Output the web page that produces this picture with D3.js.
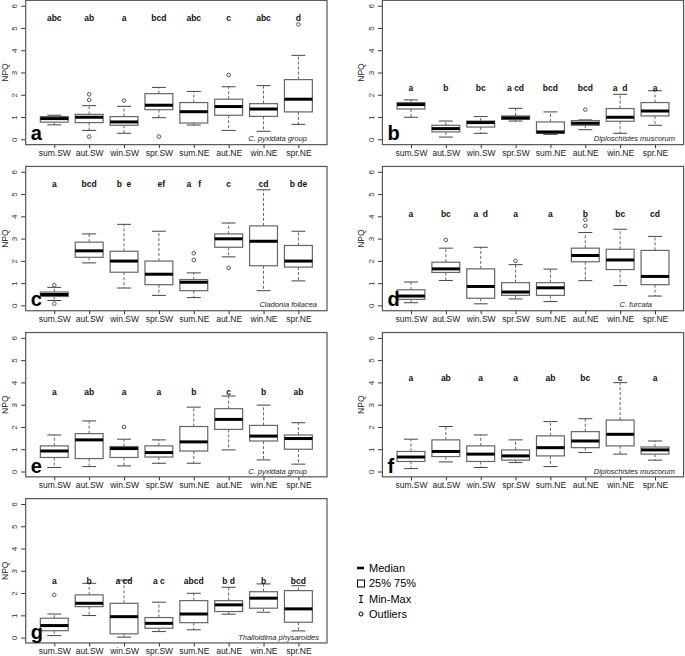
<!DOCTYPE html>
<html><head><meta charset="utf-8">
<script src="https://cdnjs.cloudflare.com/ajax/libs/d3/7.8.5/d3.min.js"></script>
<style>
body{margin:0;background:#fff}
svg{display:block;font-family:"Liberation Sans",Arial,Helvetica,sans-serif}
</style></head><body>
<svg id="chart" width="685" height="656"></svg>
<script>
// ---------- DATA ----------
const categories = ["sum.SW","aut.SW","win.SW","spr.SW","sum.NE","aut.NE","win.NE","spr.NE"];
const yTicks = [0,1,2,3,4,5,6];
// each entry: [min, q1, median, q3, max]
const statsA = [[0.65,0.77,0.93,1.02,1.08],[0.40,0.75,0.99,1.12,1.51],[0.27,0.63,0.78,1.02,1.48],[0.97,1.33,1.53,2.05,2.33],[0.64,0.73,1.24,1.65,2.15],[0.40,1.08,1.47,1.80,2.36],[0.36,1.03,1.36,1.60,2.41],[0.67,1.23,1.80,2.68,3.77]];
const outliersA = [[],[2.02,1.77,0.12],[1.74],[0.12],[],[2.89],[],[5.16]];
const lettersA = ["abc","ab","a","bcd","abc","c","abc","d"];

const statsB = [[0.99,1.36,1.56,1.65,1.77],[0.10,0.33,0.48,0.63,0.82],[0.27,0.55,0.75,0.82,1.02],[0.82,0.90,0.96,1.05,1.39],[0.22,0.27,0.33,0.78,1.23],[0.43,0.63,0.72,0.84,0.87],[0.27,0.81,0.99,1.38,2.02],[0.63,1.05,1.27,1.65,2.18]];
const outliersB = [[],[],[],[],[],[1.33],[],[]];
const lettersB = ["a","b","bc","a cd","bcd","bcd","a  d","a"];

const statsC = [[0.22,0.40,0.49,0.60,0.81],[1.91,2.16,2.45,2.84,3.21],[0.78,1.49,1.99,2.43,3.64],[0.45,0.93,1.40,1.99,3.33],[0.35,0.66,1.04,1.16,1.46],[2.18,2.61,2.99,3.21,3.70],[0.66,1.78,2.88,3.57,5.19],[1.10,1.72,1.99,2.69,3.33]];
const outliersC = [[0.91,0.08],[],[],[],[2.34,2.04],[1.69],[],[]];
const lettersC = ["a","bcd","b  e","  ef","a   f","c","cd","b de"];

const statsD = [[0.12,0.27,0.42,0.70,1.05],[1.12,1.48,1.64,1.94,2.57],[0.07,0.32,0.85,1.64,2.61],[0.29,0.45,0.60,1.02,1.83],[0.17,0.45,0.79,1.02,1.63],[1.11,1.96,2.24,2.57,3.27],[0.89,1.61,2.04,2.52,3.42],[0.42,0.93,1.30,2.47,3.10]];
const outliersD = [[],[2.94],[],[2.00],[],[3.57,3.85],[],[]];
const lettersD = ["a","bc","a  d","a","a","b","bc","cd"];

const statsE = [[0.18,0.63,0.92,1.15,1.64],[0.22,0.58,1.42,1.70,2.27],[0.25,0.63,1.03,1.12,1.45],[0.37,0.65,0.85,1.15,1.42],[0.37,0.92,1.33,2.02,2.89],[0.97,1.89,2.34,2.82,3.39],[0.52,1.37,1.59,2.07,2.98],[0.33,1.00,1.48,1.64,2.19]];
const outliersE = [[],[],[2.00],[],[],[],[],[]];
const lettersE = ["a","ab","a","a","b","c","b","ab"];

const statsF = [[0.13,0.45,0.65,0.90,1.45],[0.43,0.67,0.90,1.42,2.02],[0.18,0.45,0.78,1.15,1.64],[0.40,0.51,0.70,0.97,1.42],[0.22,0.70,1.07,1.60,2.24],[0.85,1.07,1.37,1.79,2.37],[0.78,1.15,1.67,2.31,3.99],[0.51,0.78,0.97,1.10,1.37]];
const outliersF = [[],[],[],[],[],[],[],[]];
const lettersF = ["a","ab","a","a","ab","bc","c","a"];

const statsG = [[0.09,0.31,0.54,0.87,1.06],[0.99,1.39,1.54,1.92,2.44],[0.02,0.17,0.94,1.54,2.58],[0.27,0.42,0.64,0.90,1.59],[0.35,0.67,1.06,1.66,1.99],[1.05,1.17,1.47,1.66,2.26],[1.14,1.32,1.77,2.06,2.41],[0.30,0.69,1.29,2.11,2.33]];
const outliersG = [[1.92],[],[],[],[],[],[],[]];
const lettersG = ["a","b","a cd","a c","abcd","b d","b","bcd"];

const legendLabels = ["Median","25% 75%","Min-Max","Outliers"];

// ---------- LAYOUT ----------
const svg = d3.select("#chart");
const colLeft = [25.7, 382.4], colRight = [327, 683.6];
const rowZero = [139.3, 305.4, 471.5, 637.6];
const unit = 22.27;
const boxCol = "#666", medCol = "#000";

const panels = [
  {tag:"a", sp:"C. pyxidata group", st:statsA, out:outliersA, let:lettersA, ly:5.43, c:0, r:0, spEnd:307},
  {tag:"b", sp:"Diploschistes muscorum", st:statsB, out:outliersB, let:lettersB, ly:2.29, c:1, r:0, spEnd:675},
  {tag:"c", sp:"Cladonia foliacea", st:statsC, out:outliersC, let:lettersC, ly:5.46, c:0, r:1, spEnd:317},
  {tag:"d", sp:"C. furcata", st:statsD, out:outliersD, let:lettersD, ly:4.12, c:1, r:1, spEnd:652},
  {tag:"e", sp:"C. pyxidata group", st:statsE, out:outliersE, let:lettersE, ly:3.55, c:0, r:2, spEnd:307},
  {tag:"f", sp:"Diploschistes muscorum", st:statsF, out:outliersF, let:lettersF, ly:4.19, c:1, r:2, spEnd:675},
  {tag:"g", sp:"Thalloidima physaroides", st:statsG, out:outliersG, let:lettersG, ly:2.55, c:0, r:3, spEnd:319}
];

panels.forEach(p => {
  const L = colLeft[p.c], R = colRight[p.c], y0 = rowZero[p.r];
  const x = d3.scaleLinear().domain([0.18, 8.82]).range([L, R]);
  const y = d3.scaleLinear().domain([0, 6]).range([y0, y0 - 6*unit]);
  const top = y(6.24), bot = y(-0.24);
  const g = svg.append("g");
  const bw = (x(1.4) - x(1)); // half of 0.8 width

  // y axis
  const ya = g.append("g").attr("transform", `translate(${L-0.5},0)`)
    .call(d3.axisLeft(y).tickValues(yTicks).tickSize(4).tickFormat(d3.format("d")));
  ya.select(".domain").remove();
  ya.selectAll("line").attr("stroke","#333");
  ya.selectAll("text").attr("font-size",8).attr("fill","#333")
    .attr("text-anchor","middle").attr("x",null)
    .attr("transform","translate(-10.5,0) rotate(-90)").attr("dy","0.32em");

  // x axis
  const xa = g.append("g").attr("transform", `translate(0,${bot})`)
    .call(d3.axisBottom(x).tickValues(d3.range(1,9)).tickSize(3.5).tickFormat((d,i)=>categories[i]));
  xa.select(".domain").remove();
  xa.selectAll("line").attr("stroke","#333");
  xa.selectAll("text").attr("font-size",8.5).attr("fill","#222")
    .attr("y",null).attr("dy",null).attr("transform","translate(0,11.5)");

  // NPQ label
  g.append("text").attr("transform",`translate(${L-18},${y(3)}) rotate(-90)`)
    .attr("text-anchor","middle").attr("font-size",8.5).attr("fill","#222").text("NPQ");

  // boxes
  p.st.forEach((s,i) => {
    const cx = x(i+1);
    const [mn,q1,md,q3,mx] = s;
    const bx = g.append("g");
    bx.append("line").attr("x1",cx).attr("x2",cx).attr("y1",y(q3)).attr("y2",y(mx))
      .attr("stroke",boxCol).attr("stroke-dasharray","3,2");
    bx.append("line").attr("x1",cx).attr("x2",cx).attr("y1",y(q1)).attr("y2",y(mn))
      .attr("stroke",boxCol).attr("stroke-dasharray","3,2");
    [mn,mx].forEach(v => bx.append("line").attr("x1",cx-bw/2).attr("x2",cx+bw/2)
      .attr("y1",y(v)).attr("y2",y(v)).attr("stroke","#444"));
    bx.append("rect").attr("x",cx-bw).attr("width",2*bw).attr("y",y(q3)).attr("height",y(q1)-y(q3))
      .attr("fill","#fff").attr("stroke",boxCol).attr("stroke-width",1.2);
    bx.append("line").attr("x1",cx-bw).attr("x2",cx+bw).attr("y1",y(md)).attr("y2",y(md))
      .attr("stroke",medCol).attr("stroke-width",3);
    p.out[i].forEach(v => bx.append("circle").attr("cx",cx).attr("cy",y(v)).attr("r",1.8)
      .attr("fill","none").attr("stroke","#444").attr("stroke-width",0.9));
    g.append("text").attr("x",cx).attr("y",y(p.ly)).attr("dy","0.35em")
      .attr("text-anchor","middle").attr("font-size",8.5).attr("font-weight","bold")
      .attr("fill","#111").style("white-space","pre").text(p.let[i]);
  });

  // frame
  g.append("rect").attr("x",L).attr("y",top).attr("width",R-L).attr("height",bot-top)
    .attr("fill","none").attr("stroke","#555").attr("stroke-width",1.2);

  // panel tag
  g.append("text").attr("x",L+5).attr("y",y0+1).attr("font-size",20).attr("font-weight","bold")
    .attr("fill","#000").text(p.tag);
  // species
  g.append("text").attr("x",p.spEnd).attr("y",y0+2).attr("text-anchor","end")
    .attr("font-size",7.5).attr("font-style","italic").attr("fill","#222").text(p.sp);
});

// ---------- LEGEND ----------
const lg = svg.append("g").attr("transform","translate(357,0)");
const ly = [568, 583.5, 599, 614];
lg.append("line").attr("x1",0).attr("x2",7).attr("y1",ly[0]).attr("y2",ly[0]).attr("stroke","#000").attr("stroke-width",2.5);
lg.append("rect").attr("x",0.5).attr("y",ly[1]-3.5).attr("width",7).attr("height",7).attr("fill","none").attr("stroke","#000");
lg.append("line").attr("x1",4).attr("x2",4).attr("y1",ly[2]-3.5).attr("y2",ly[2]+3.5).attr("stroke","#000");
lg.append("line").attr("x1",2).attr("x2",6).attr("y1",ly[2]-3.5).attr("y2",ly[2]-3.5).attr("stroke","#000");
lg.append("line").attr("x1",2).attr("x2",6).attr("y1",ly[2]+3.5).attr("y2",ly[2]+3.5).attr("stroke","#000");
lg.append("circle").attr("cx",4).attr("cy",ly[3]).attr("r",2).attr("fill","none").attr("stroke","#000");
legendLabels.forEach((t,i) => lg.append("text").attr("x",12).attr("y",ly[i]).attr("dy","0.35em")
  .attr("font-size",11).attr("fill","#000").text(t));
</script></body></html>
